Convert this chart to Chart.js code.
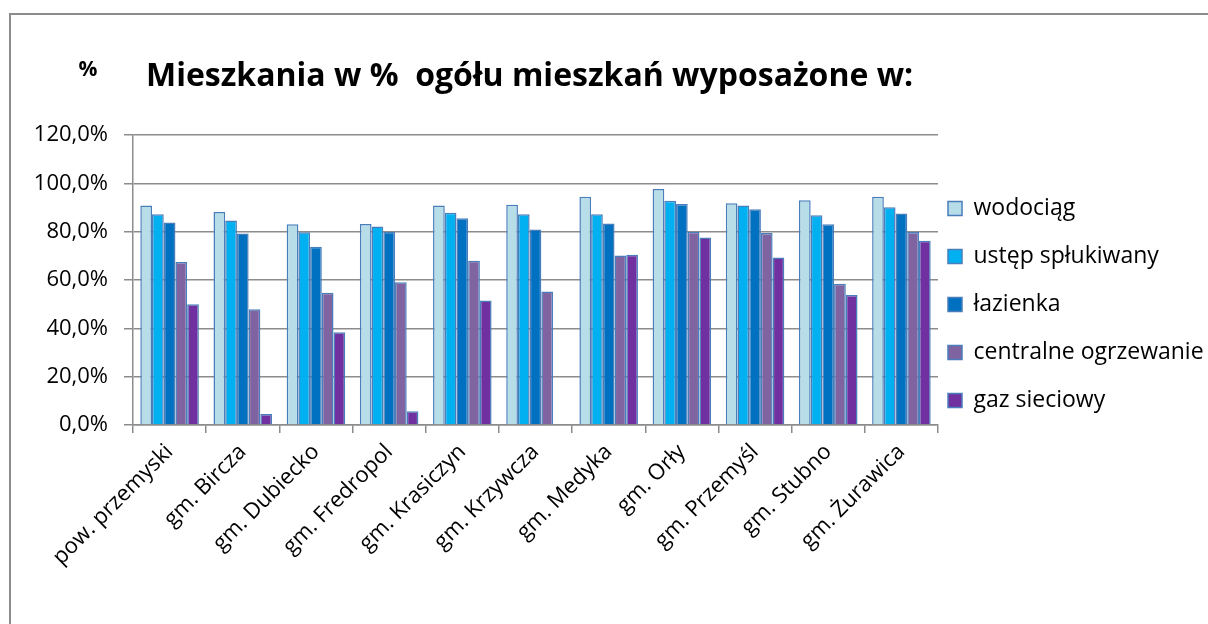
<!DOCTYPE html>
<html>
<head>
<meta charset="utf-8">
<script src="https://cdn.jsdelivr.net/npm/chart.js@4.4.1/dist/chart.umd.min.js"></script>
<style>
  body { margin: 0; background: #fff; overflow: hidden; }
  #frame { position: absolute; left: 9px; top: 13px; width: 1300px; height: 700px;
           border-left: 2px solid #8c8c8c; border-top: 2px solid #8c8c8c; }
  #wrap { position: absolute; left: 0; top: 0; width: 1208px; height: 624px; }
</style>
</head>
<body>
<div id="frame"></div>
<div id="wrap"><canvas id="chart"></canvas></div>
<script>
const categories = ['pow. przemyski', 'gm. Bircza', 'gm. Dubiecko', 'gm. Fredropol', 'gm. Krasiczyn',
  'gm. Krzywcza', 'gm. Medyka', 'gm. Orły', 'gm. Przemyśl', 'gm. Stubno', 'gm. Żurawica'];

const seriesNames = ['wodociąg', 'ustęp spłukiwany', 'łazienka', 'centralne ogrzewanie', 'gaz sieciowy'];

const wodociag = [90.8, 88.1, 83.1, 83.2, 90.8, 91.1, 94.4, 97.7, 91.8, 93.0, 94.5];
const ustep = [87.2, 84.6, 79.8, 82.1, 87.8, 87.2, 87.2, 92.8, 90.8, 86.8, 90.1];
const lazienka = [83.8, 79.2, 73.8, 80.0, 85.6, 80.9, 83.4, 91.5, 89.3, 83.1, 87.5];
const centralne = [67.4, 47.9, 54.7, 59.1, 68.0, 55.2, 70.1, 80.0, 79.5, 58.4, 79.9];
const gaz = [50.0, 4.6, 38.4, 5.7, 51.5, null, 70.4, 77.6, 69.3, 53.8, 76.2];

const yTicks = [0, 20, 40, 60, 80, 100, 120];

const chartTitle = 'Mieszkania w %  ogółu mieszkań wyposażone w:';
const unitLabel = '%';

const colors = ['#b7dde8', '#00b0f0', '#0070c0', '#8064a2', '#7030a0'];
const gridColor = '#8c8c8c';
const font = 'Open Sans';

// tytuł i znak % rysowane ręcznie (pozycja jak w oryginale)
const titlePlugin = {
  id: 'titleText',
  afterLayout(chart) {
    // legenda: bliżej wykresu i niżej
    const lg = chart.legend;
    if (lg) {
      lg.left -= 15;
      lg.right = chart.width;
      lg.top += 37;
      lg.bottom += 37;
    }
  },
  afterDraw(chart) {
    const ctx = chart.ctx;
    ctx.save();
    ctx.fillStyle = '#000';
    ctx.textBaseline = 'alphabetic';
    ctx.textAlign = 'left';
    ctx.font = 'bold 32px ' + font;
    ctx.fillText(chartTitle, 146, 86);
    ctx.font = 'bold 21px ' + font;
    ctx.textAlign = 'center';
    ctx.fillText(unitLabel, 88, 76);
    ctx.restore();
  }
};

const ctx = document.getElementById('chart').getContext('2d');
const data = [wodociag, ustep, lazienka, centralne, gaz];

new Chart(ctx, {
  type: 'bar',
  data: {
    labels: categories,
    datasets: seriesNames.map((name, i) => ({
      label: name,
      data: data[i],
      backgroundColor: colors[i],
      borderColor: '#4a7ebb',
      borderWidth: 1.5,
      categoryPercentage: 0.8,
      barPercentage: 1.0
    }))
  },
  options: {
    responsive: true,
    maintainAspectRatio: false,
    animation: false,
    layout: { padding: { left: 10, top: 135, right: 0, bottom: 0 } },
    plugins: {
      title: { display: false },
      tooltip: { enabled: false },
      legend: {
        position: 'right',
        align: 'start',
        fullSize: false,
        maxWidth: 270,
        labels: {
          boxWidth: 14,
          boxHeight: 14,
          padding: 25,
          color: '#000',
          font: { family: font, size: 23 }
        }
      }
    },
    scales: {
      x: {
        afterFit: s => { s.height = 199; },
        grid: { drawOnChartArea: false, drawTicks: true, tickLength: 8, color: gridColor, lineWidth: 1.5 },
        border: { color: gridColor, width: 1.5 },
        ticks: {
          color: '#000',
          minRotation: 45,
          maxRotation: 45,
          padding: 6,
          font: { family: font, size: 22 }
        }
      },
      y: {
        min: 0,
        max: 120,
        afterFit: s => { s.width = 123; },
        afterBuildTicks: s => { s.ticks = yTicks.map(v => ({ value: v })); },
        grid: { color: gridColor, lineWidth: 1.5, tickLength: 9 },
        border: { color: gridColor, width: 1.5 },
        ticks: {
          color: '#000',
          padding: 16,
          font: { family: font, size: 22 },
          callback: v => v.toFixed(1).replace('.', ',') + '%'
        }
      }
    }
  },
  plugins: [titlePlugin]
});
</script>
</body>
</html>
